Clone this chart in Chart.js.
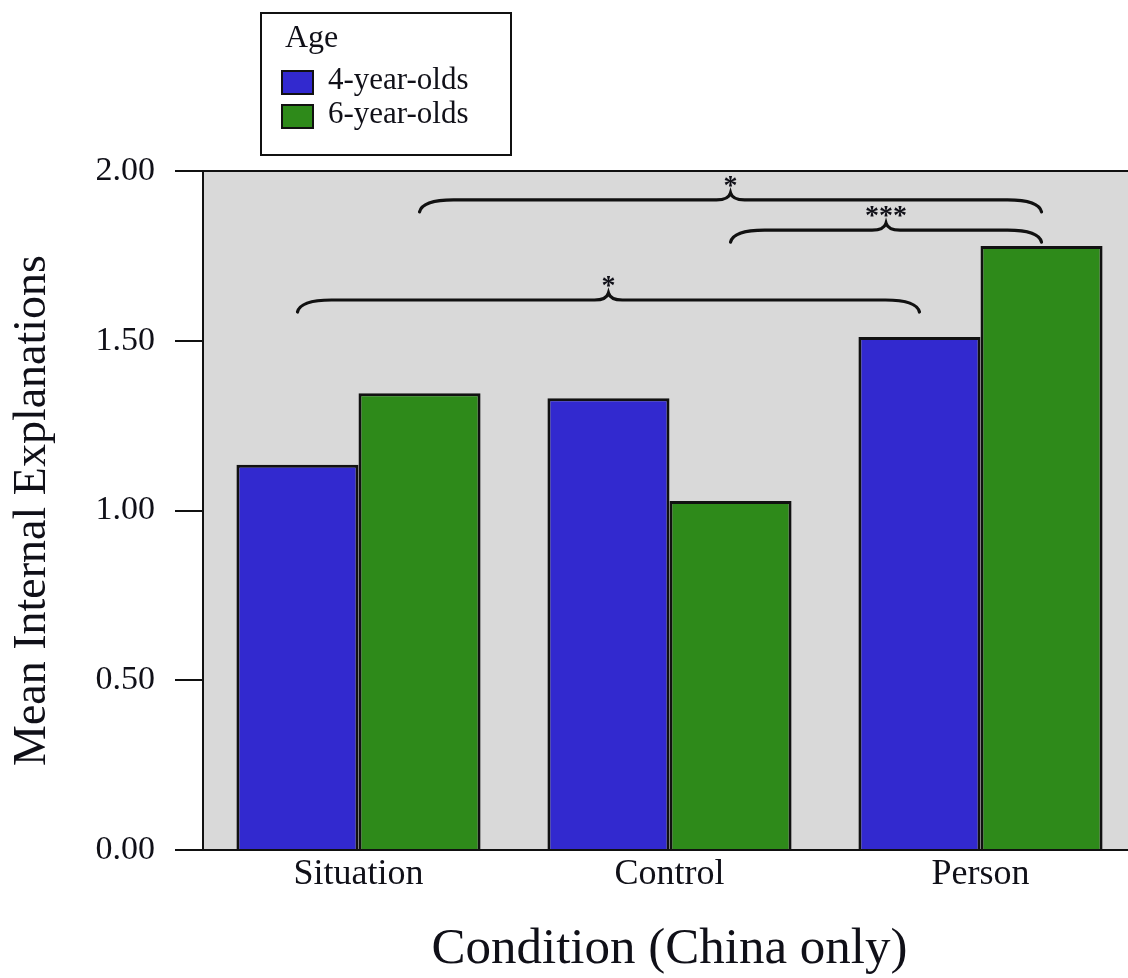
<!DOCTYPE html>
<html><head><meta charset="utf-8">
<script src="https://cdn.jsdelivr.net/npm/chart.js@4.4.1/dist/chart.umd.min.js"></script>
<style>html,body{margin:0;padding:0;overflow:hidden;background:#fff;width:1128px;height:978px}canvas{display:block}</style>
</head><body>
<canvas id="c" width="1136" height="978"></canvas>
<script>
const categories = ['Situation', 'Control', 'Person'];
const seriesLabels = ['4-year-olds', '6-year-olds'];
const fourYearOlds = [1.135, 1.331, 1.511];
const sixYearOlds = [1.345, 1.028, 1.779];
const yTicks = [0, 0.5, 1, 1.5, 2];
const legendTitle = 'Age';
const xTitle = 'Condition (China only)';
const yTitle = 'Mean Internal Explanations';
// significance braces: endpoints as [category index, series index], level in y units
const braceFrom = [[0, 1], [1, 1], [0, 0]];
const braceTo = [[2, 1], [2, 1], [2, 0]];
const braceLevel = [1.915, 1.826, 1.62];
const braceLabel = ['*', '***', '*'];

const FONT = "'Liberation Serif', 'Times New Roman', serif";
const BLUE = '#3229cf';
const GREEN = '#2e8a1a';
const INK = '#101018';

const plotBg = {
  id: 'plotBg',
  beforeDraw(chart) {
    const {ctx, chartArea: a} = chart;
    ctx.save();
    ctx.fillStyle = '#d9d9d9';
    ctx.fillRect(a.left, a.top, a.right - a.left, a.bottom - a.top);
    ctx.restore();
  },
  afterDraw(chart) {
    const {ctx, chartArea: a} = chart;
    ctx.save();
    ctx.strokeStyle = '#111';
    ctx.lineWidth = 2;
    ctx.beginPath();
    ctx.moveTo(a.left, a.top);
    ctx.lineTo(a.right + 5, a.top);
    ctx.stroke();
    ctx.restore();
  }
};

function drawBrace(ctx, x0, x1, yFlat, hook, tip) {
  const xm = (x0 + x1) / 2;
  const r = 34, r2 = 14;
  ctx.beginPath();
  ctx.moveTo(x0, yFlat + hook);
  ctx.quadraticCurveTo(x0 + 3, yFlat, x0 + r, yFlat);
  ctx.lineTo(xm - r2, yFlat);
  ctx.quadraticCurveTo(xm - 2, yFlat, xm, yFlat - tip);
  ctx.quadraticCurveTo(xm + 2, yFlat, xm + r2, yFlat);
  ctx.lineTo(x1 - r, yFlat);
  ctx.quadraticCurveTo(x1 - 3, yFlat, x1, yFlat + hook);
  ctx.stroke();
}

const braces = {
  id: 'braces',
  afterDatasetsDraw(chart) {
    const {ctx} = chart;
    const y = chart.scales.y;
    ctx.save();
    ctx.strokeStyle = '#111';
    ctx.lineWidth = 3.2;
    ctx.lineCap = 'round';
    ctx.fillStyle = INK;
    ctx.font = 'bold 28px ' + FONT;
    ctx.textAlign = 'center';
    ctx.textBaseline = 'alphabetic';
    braceLevel.forEach((lvl, i) => {
      const [c0, s0] = braceFrom[i];
      const [c1, s1] = braceTo[i];
      const x0 = chart.getDatasetMeta(s0).data[c0].x;
      const x1 = chart.getDatasetMeta(s1).data[c1].x;
      const yf = y.getPixelForValue(lvl);
      drawBrace(ctx, x0, x1, yf, 12, 7);
      ctx.fillText(braceLabel[i], (x0 + x1) / 2, yf - 6);
    });
    ctx.restore();
  }
};

const boxLegend = {
  id: 'boxLegend',
  afterDraw(chart) {
    const {ctx} = chart;
    ctx.save();
    ctx.strokeStyle = '#111';
    ctx.lineWidth = 2;
    ctx.strokeRect(261, 13, 250, 142);
    ctx.fillStyle = INK;
    ctx.textBaseline = 'alphabetic';
    ctx.textAlign = 'left';
    ctx.font = '32px ' + FONT;
    ctx.fillText(legendTitle, 285, 47);
    ctx.font = '31px ' + FONT;
    chart.data.datasets.forEach((ds, i) => {
      const top = 71 + i * 34;
      ctx.fillStyle = ds.backgroundColor;
      ctx.fillRect(282, top, 31, 23);
      ctx.lineWidth = 2;
      ctx.strokeStyle = '#111';
      ctx.strokeRect(282, top, 31, 23);
      ctx.fillStyle = INK;
      ctx.fillText(ds.label, 328, top + 18);
    });
    ctx.restore();
  }
};

new Chart(document.getElementById('c'), {
  type: 'bar',
  data: {
    labels: categories,
    datasets: [
      {label: seriesLabels[0], data: fourYearOlds, backgroundColor: BLUE},
      {label: seriesLabels[1], data: sixYearOlds, backgroundColor: GREEN}
    ]
  },
  options: {
    responsive: false,
    animation: false,
    layout: {padding: {top: 171, left: 0, right: 0, bottom: 0}},
    datasets: {
      bar: {categoryPercentage: 0.785, barPercentage: 1.0, borderColor: '#111', borderWidth: 3}
    },
    plugins: {legend: {display: false}, tooltip: {enabled: false}},
    scales: {
      x: {
        grid: {display: false, drawTicks: false},
        border: {display: true, color: '#111', width: 2},
        ticks: {font: {family: FONT, size: 36}, color: INK, padding: 3},
        title: {display: true, text: xTitle, font: {family: FONT, size: 51, lineHeight: 1.1}, color: INK, padding: 0},
        afterFit(s) { s.height = 128; }
      },
      y: {
        min: 0, max: 2,
        afterBuildTicks(s) { s.ticks = yTicks.map(v => ({value: v})); },
        grid: {display: true, drawOnChartArea: false, drawTicks: true, tickLength: 28, color: '#111', lineWidth: 2},
        border: {display: true, color: '#111', width: 2},
        ticks: {font: {family: FONT, size: 34}, color: INK, padding: 20, callback: v => Number(v).toFixed(2)},
        title: {display: true, text: yTitle, font: {family: FONT, size: 46}, color: INK, padding: {top: 5, bottom: 0}},
        afterFit(s) { s.width = 203; }
      }
    }
  },
  plugins: [plotBg, braces, boxLegend]
});
</script>
</body></html>
